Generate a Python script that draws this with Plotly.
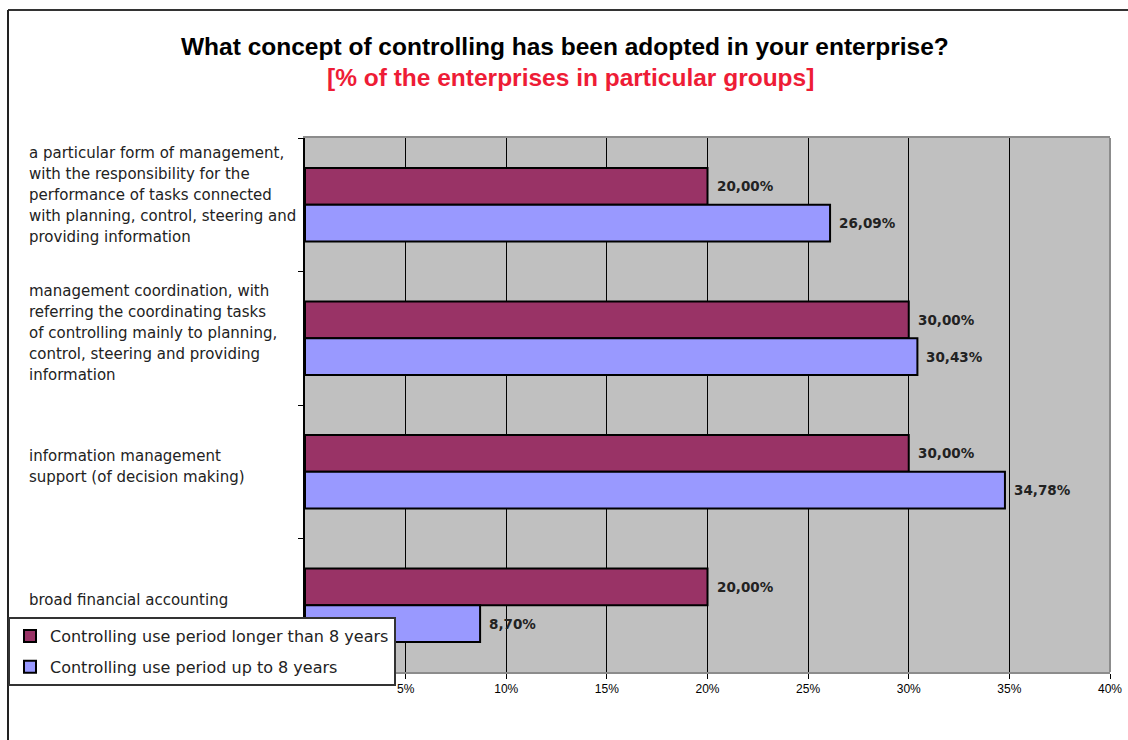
import plotly.graph_objects as go

# Survey categories (top to bottom) and shares per group, in percent
categories = [
    "a particular form of management,<br>with the responsibility for the<br>performance of tasks connected<br>with planning, control, steering and<br>providing information",
    "management coordination, with<br>referring the coordinating tasks<br>of controlling mainly to planning,<br>control, steering and providing<br>information",
    "information management<br>support (of decision making)",
    "broad financial accounting",
]
series_names = [
    "Controlling use period longer than 8 years",
    "Controlling use period up to 8 years",
]
longer_than_8 = [20.00, 30.00, 30.00, 20.00]
up_to_8 = [26.09, 30.43, 34.78, 8.70]
x_ticks = [5, 10, 15, 20, 25, 30, 35, 40]

title_text = "What concept of controlling has been adopted in your enterprise?"
subtitle_text = "[% of the enterprises in particular groups]"

W, H = 1128, 740
M_L, M_R, M_T, M_B = 305, 18, 138, 68
PW, PH = W - M_L - M_R, H - M_T - M_B


def px_to_paper_x(px):
    return (px - M_L) / PW


def px_to_paper_y(py):
    return (H - M_B - py) / PH


def fmt(v):
    return f"{v:.2f}".replace(".", ",") + "%"


colors = ["#993366", "#9999FF"]
values = [longer_than_8, up_to_8]

fig = go.Figure()
for i, (name, vals, col) in enumerate(zip(series_names, values, colors)):
    fig.add_trace(go.Bar(
        y=categories, x=vals, name=name, orientation="h",
        legendgroup=f"g{i}",
        marker=dict(color=col, line=dict(color="black", width=2)),
        hoverinfo="x+name",
    ))

annotations = []

# value labels right of each bar
bargap = 0.45
bar_w = (1 - bargap) / 2
for si, vals in enumerate(values):
    offset = (-bar_w / 2) if si == 0 else (bar_w / 2)
    for ci, v in enumerate(vals):
        annotations.append(dict(
            x=v, y=ci + offset, xref="x", yref="y",
            text="<b>" + fmt(v) + "</b>", showarrow=False, xanchor="left", yanchor="middle",
            xshift=7, font=dict(family="DejaVu Sans", size=13.5, color="#222222"),
        ))

# category labels, left aligned, one annotation per line
line_h = 21
for ci, label in enumerate(categories):
    lines = label.split("<br>")
    k = len(lines)
    for li, line in enumerate(lines):
        annotations.append(dict(
            x=px_to_paper_x(27), y=ci, xref="paper", yref="y",
            text=line, showarrow=False, xanchor="left", yanchor="middle",
            yshift=5 + ((k - 1) / 2 - li) * line_h + (5 if k == 5 and ci == 0 else 0),
            font=dict(family="DejaVu Sans", size=15, color="#222222"),
        ))

# title and subtitle
annotations.append(dict(
    x=px_to_paper_x(565), y=px_to_paper_y(46), xref="paper", yref="paper",
    text="<b>" + title_text + "</b>", showarrow=False, xanchor="center", yanchor="middle",
    font=dict(family="Liberation Sans, Arial", size=24.5, color="black"),
))
annotations.append(dict(
    x=px_to_paper_x(570), y=px_to_paper_y(78), xref="paper", yref="paper",
    text="<b>" + subtitle_text + "</b>", showarrow=False, xanchor="center", yanchor="middle",
    font=dict(family="Liberation Sans, Arial", size=24.5, color="#EE1C36"),
))

shapes = [
    # outer frame (top and left edges)
    dict(type="line", xref="paper", yref="paper",
         x0=px_to_paper_x(8), x1=px_to_paper_x(1140), y0=px_to_paper_y(10), y1=px_to_paper_y(10),
         line=dict(color="#333333", width=2)),
    dict(type="line", xref="paper", yref="paper",
         x0=px_to_paper_x(8), x1=px_to_paper_x(8), y0=px_to_paper_y(10), y1=px_to_paper_y(745),
         line=dict(color="#222222", width=2)),
    # right border of plotting area
    dict(type="line", xref="paper", yref="paper", x0=1, x1=1, y0=0, y1=1,
         line=dict(color="#8C8C8C", width=2), layer="above"),
]

fig.update_layout(
    width=W, height=H,
    margin=dict(l=M_L, r=M_R, t=M_T, b=M_B, autoexpand=False),
    paper_bgcolor="white", plot_bgcolor="#C0C0C0",
    barmode="group", bargap=bargap, bargroupgap=0,
    showlegend=True,
    legend=dict(
        x=px_to_paper_x(8), y=px_to_paper_y(617), xanchor="left", yanchor="top",
        bgcolor="white", bordercolor="#333333", borderwidth=2,
        font=dict(family="DejaVu Sans", size=16, color="#222222"),
        traceorder="grouped", itemclick=False, itemdoubleclick=False,
        tracegroupgap=7, itemwidth=30,
    ),
    annotations=annotations,
    shapes=shapes,
    xaxis=dict(
        range=[0, 40], tickvals=x_ticks, ticktext=[f"{t}%" for t in x_ticks],
        showgrid=True, gridcolor="black", gridwidth=1,
        showline=True, linecolor="#8C8C8C", linewidth=2, mirror=True,
        ticks="outside", ticklen=5, tickcolor="black", tickwidth=1,
        tickfont=dict(family="Liberation Sans, Arial", size=12, color="black"),
        zeroline=False, fixedrange=True,
    ),
    yaxis=dict(
        autorange="reversed", type="category",
        showticklabels=False, tickson="boundaries",
        ticks="outside", ticklen=5, tickcolor="black", tickwidth=1,
        showline=True, linecolor="black", linewidth=2,
        showgrid=False, zeroline=False, fixedrange=True,
    ),
)

fig.write_html("out.html")
